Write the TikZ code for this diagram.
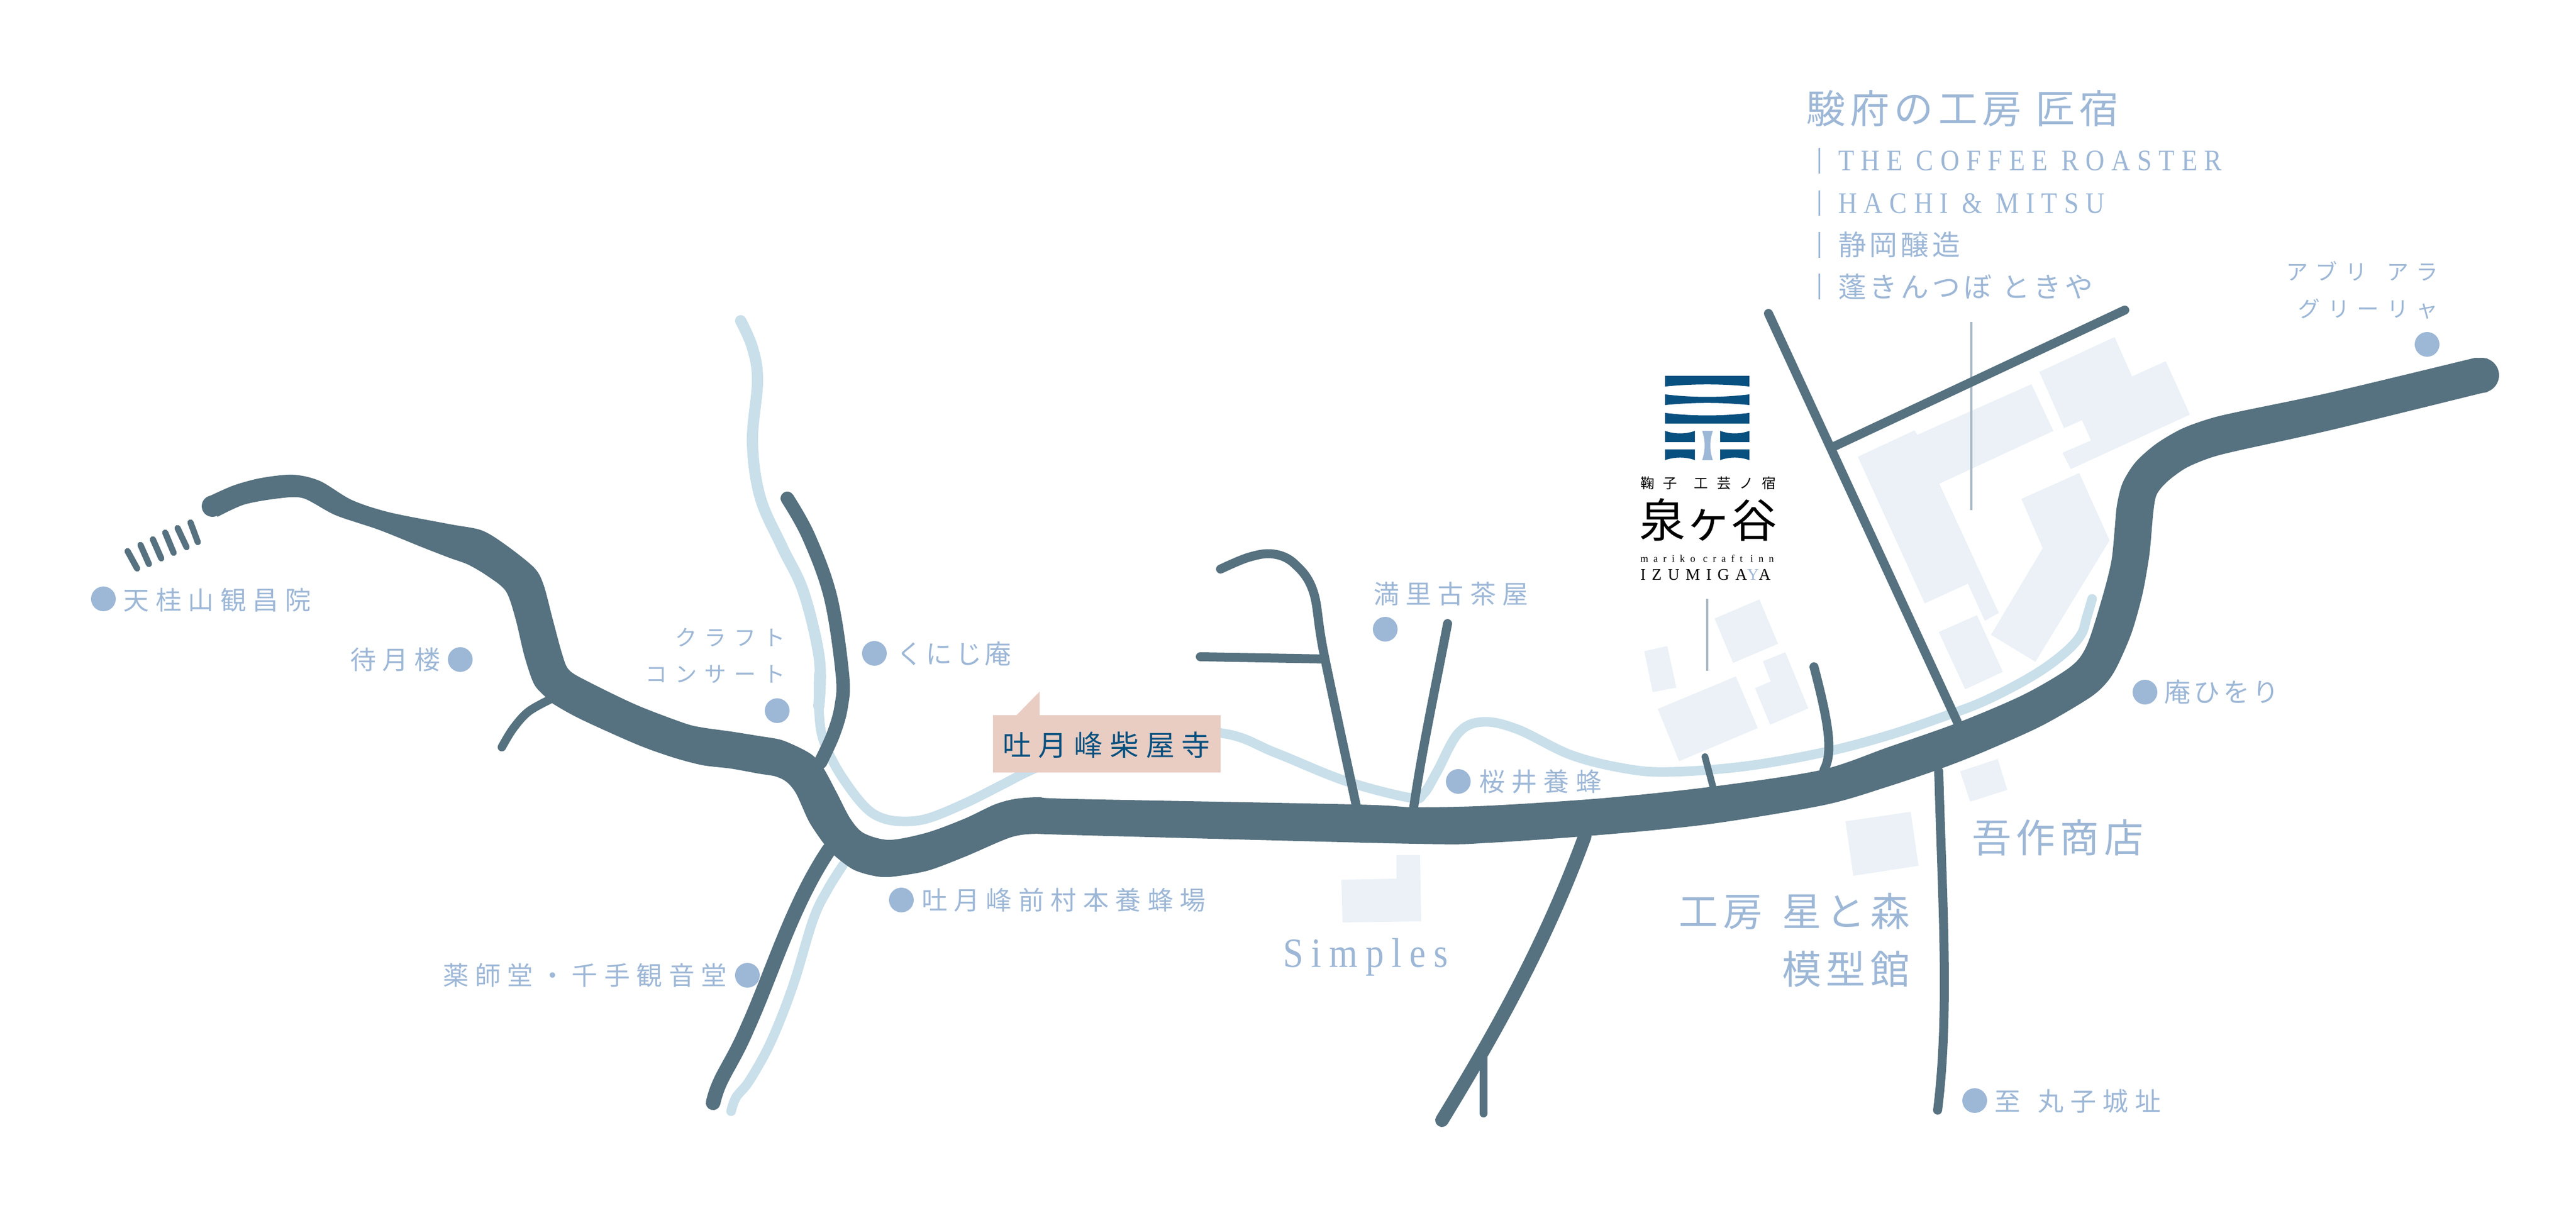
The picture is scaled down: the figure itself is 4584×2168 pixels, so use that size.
\documentclass[tikz,border=0pt]{standalone}
\usepackage{fontspec}
\usepackage{tikz}
\usepackage{xcolor}

\newfontfamily\jplabel[LetterSpace=25]{Noto Sans CJK JP}
\newfontfamily\jpbig[LetterSpace=12]{Noto Sans CJK JP}
\newfontfamily\jpkana[LetterSpace=35]{Noto Sans CJK JP}
\newfontfamily\jpwide[LetterSpace=62]{Noto Sans CJK JP}
\newfontfamily\jpplain{Noto Sans CJK JP}
\newfontfamily\latinlabel[LetterSpace=23,FakeStretch=0.88]{Liberation Serif}
\newfontfamily\latinsimple[LetterSpace=19,FakeStretch=0.88]{Liberation Serif}
\newfontfamily\latinwide[LetterSpace=52]{Liberation Serif}
\newfontfamily\latinlogo[LetterSpace=37]{Liberation Serif}

\definecolor{roadcol}{HTML}{56717F}
\definecolor{rivercol}{HTML}{C9DFEA}
\definecolor{buildcol}{HTML}{EBF1F7}
\definecolor{spotcol}{HTML}{9DB7D6}
\definecolor{tagcol}{HTML}{E9CDC3}
\definecolor{logocol}{HTML}{07507F}
\definecolor{leadcol}{HTML}{A9B8C4}

\tikzset{
  street/.style={draw=roadcol,line cap=round,line join=round,line width=1.6pt},
  river/.style={draw=rivercol,line cap=round,line join=round,line width=1.7pt},
  building/.style={fill=buildcol},
  lead/.style={draw=leadcol,line width=0.4pt},
  spot/.style={circle,fill=spotcol,inner sep=0pt,minimum size=4.4pt},
  smalltext/.style={text=spotcol,inner sep=0pt,font=\jplabel\fontsize{4.6}{5.5}\selectfont},
  tighttext/.style={text=spotcol,inner sep=0pt,font=\jpbig\fontsize{4.7}{5.6}\selectfont},
  kanatext/.style={text=spotcol,inner sep=0pt,font=\jpkana\fontsize{3.9}{4.7}\selectfont},
  bigtext/.style={text=spotcol,inner sep=0pt,font=\jpbig\fontsize{7}{8}\selectfont},
}

\begin{document}
\begin{tikzpicture}[x=0.1pt,y=0.1pt,yscale=-1,xscale=1]
    \useasboundingbox (0,0) rectangle (4584,2168);

    %Shape: Buildings north of the main road
    \fill[building] (3306,813) -- (3407,766) -- (3412,774) -- (3615,684) -- (3654,767) -- (3451,861) -- (3557,1091) -- (3532,1105) -- (3502,1039) -- (3425,1074) -- cycle ;
    \fill[building] (3629,662) -- (3763,600) -- (3794,670) -- (3854,643) -- (3897,738) -- (3685,835) -- (3670,806) -- (3721,784) -- (3705,748) -- (3673,762) -- cycle ;
    \fill[building] (3597,888) -- (3700,842) -- (3754,962) -- (3622,1178) -- (3543,1130) -- (3635,976) -- cycle ;
    \fill[building] (3450,1125) -- (3518,1095) -- (3564,1196) -- (3497,1227) -- cycle ;
    \fill[building] (3051,1101) -- (3131,1067) -- (3164,1146) -- (3084,1180) -- cycle ;
    \fill[building] (2926,1159) -- (2967,1150) -- (2983,1224) -- (2941,1232) -- cycle ;
    \fill[building] (2950,1262) -- (3089,1204) -- (3128,1296) -- (2988,1355) -- cycle ;
    \fill[building] (3137,1177) -- (3177,1161) -- (3218,1261) -- (3150,1290) -- (3123,1225) -- (3151,1213) -- cycle ;
    %Shape: Buildings south of the main road
    \fill[building] (3488,1373) -- (3555,1351) -- (3572,1406) -- (3506,1427) -- cycle ;
    \fill[building] (3284,1462) -- (3400,1445) -- (3414,1541) -- (3298,1559) -- cycle ;
    \fill[building] (2387,1566) -- (2485,1564) -- (2485,1522) -- (2527,1522) -- (2529,1640) -- (2389,1642) -- cycle ;

    %Curve Lines: rivers
    \draw[river,line width=2pt] plot[smooth,tension=0.6] coordinates {(1318,571) (1339,619) (1348,678) (1339,787) (1353,886) (1392,974) (1430,1054) (1458,1172) (1457,1257)};
    \draw[river] plot[smooth,tension=0.6] coordinates {(1457,1200) (1457,1257) (1463,1310) (1483,1357) (1510,1400) (1540,1437) (1567,1455) (1603,1462) (1650,1457) (1717,1430) (1783,1397) (1843,1367) (2000,1300) (2174,1305) (2270,1340) (2394,1390) (2509,1420) (2533,1413) (2557,1374) (2595,1305) (2638,1285) (2700,1298) (2796,1344) (2892,1368) (2971,1374) (3105,1364) (3246,1339) (3360,1309) (3460,1275) (3533,1247) (3617,1203) (3673,1163) (3703,1130) (3713,1100) (3723,1066)};
    \draw[river] plot[smooth,tension=0.6] coordinates {(1500,1540) (1473,1583) (1447,1637) (1411,1755) (1372,1854) (1334,1923) (1310,1953) (1301,1978)};

    %Straight Lines: leaders
    \draw[lead] (3508,573) -- (3508,908) ;
    \draw[lead] (3038,1066) -- (3038,1194) ;

    %Curve Lines: side streets
    \draw[street,line width=2.4pt] plot[smooth,tension=0.6] coordinates {(1401,887) (1439,955) (1478,1063) (1499,1200) (1497,1257) (1483,1307) (1460,1357)};
    \draw[street,line width=1.5pt] plot[smooth,tension=0.6] coordinates {(977,1246) (940,1267) (913,1297) (893,1330)};
    \draw[street,line width=2.6pt] (1475,1513) .. controls (1410,1610) and (1375,1730) .. (1330,1830) .. controls (1300,1900) and (1280,1915) .. (1269,1963) ;
    \draw[street] plot[smooth,tension=0.6] coordinates {(2172,1013) (2222,992) (2265,986) (2303,1003) (2337,1053) (2356,1164) (2413,1432)};
    \draw[street] (2136,1169) -- (2356,1173) ;
    \draw[street] (2576,1110) .. controls (2545,1270) and (2530,1340) .. (2516,1435) ;
    \draw[street,line width=2.4pt] (2820,1489) .. controls (2750,1680) and (2660,1840) .. (2566,1994) ;
    \draw[street,line width=1.4pt] (2640,1883) -- (2640,1982) ;
    \draw[street,line width=1.2pt] (3034,1347) -- (3048,1400) ;
    \draw[street] (3228,1187) .. controls (3255,1290) and (3262,1340) .. (3246,1370) ;
    \draw[street] (3450,1373) .. controls (3456,1600) and (3470,1800) .. (3448,1976) ;
    \draw[street] (3147,558) -- (3483,1285) ;
    \draw[street] (3781,552) -- (3261,796) ;

    %Straight Lines: hatch by the temple
    \draw[street,line width=1.1pt] (227,981) -- (244,1012) ;
    \draw[street,line width=1.1pt] (250,970) -- (265,1004) ;
    \draw[street,line width=1.1pt] (272,960) -- (287,994) ;
    \draw[street,line width=1.1pt] (294,948) -- (309,984) ;
    \draw[street,line width=1.1pt] (316,940) -- (332,974) ;
    \draw[street,line width=1.1pt] (339,930) -- (352,965) ;

    %Shape: Main road
    \fill[roadcol] plot[smooth,tension=0.5] coordinates {(373,883) (416,864) (464,851) (521,845) (569,856) (626,890) (693,912) (800,933) (857,944) (900,970) (950,1010) (967,1040) (983,1100) (1000,1163) (1013,1193) (1050,1215) (1133,1255) (1217,1287) (1250,1295) (1300,1302) (1350,1310) (1390,1317) (1427,1333) (1449,1347) (1467,1370) (1490,1413) (1513,1457) (1537,1483) (1583,1495) (1650,1482) (1717,1457) (1770,1432) (1807,1422) (1850,1419) (1906,1422) (2413,1432) (2518,1437) (2652,1434) (2850,1421) (3041,1401) (3239,1371) (3360,1330) (3485,1286) (3600,1237) (3683,1188) (3713,1150) (3740,1067) (3757,1000) (3763,943) (3767,900) (3777,860) (3800,823) (3837,790) (3883,763) (3933,745) (3983,733) (4150,698) (4404,637)}
      -- (4426,638) -- (4447,668) -- (4426,698) -- plot[smooth,tension=0.5] coordinates {(4415,700) (4150,765) (3983,802) (3933,815) (3890,833) (3857,857) (3838,880) (3832,910) (3827,967) (3823,1000) (3812,1060) (3793,1127) (3767,1187) (3747,1217) (3717,1243) (3633,1292) (3533,1337) (3457,1367) (3360,1400) (3246,1433) (3041,1467) (2850,1486) (2652,1500) (2518,1502) (1897,1486) (1850,1484) (1800,1490) (1717,1525) (1650,1550) (1583,1561) (1550,1558) (1517,1547) (1485,1523) (1467,1503) (1440,1463) (1417,1413) (1400,1392) (1380,1382) (1350,1377) (1300,1368) (1250,1362) (1197,1348) (1133,1325) (1033,1280) (983,1252) (970,1240) (950,1217) (933,1167) (917,1100) (900,1052) (867,1025) (833,1005) (800,993) (751,974) (674,943) (597,917) (540,887) (497,887) (435,898) (387,920)} -- cycle ;
    \fill[roadcol] (378,901) circle (19) ;
    \fill[roadcol] (4416,668) circle (31) ;

    %Shape: Tag
    \fill[tagcol] (1767,1273) -- (1809,1273) -- (1850,1231) -- (1850,1273) -- (2172,1273) -- (2172,1375) -- (1767,1375) -- cycle ;
    \node (tagText) [text=logocol,inner sep=0pt,font=\jplabel\fontsize{5.1}{6}\selectfont] at (1969,1326) {吐月峰柴屋寺};

    %Shape: Logo
    \fill[logocol] (2963,669) -- (3113,669) -- (3113,688) .. controls (3063,683) and (3013,683) .. (2963,688) -- cycle ;
    \fill[logocol] (2963,702) .. controls (3013,708) and (3063,708) .. (3113,702) -- (3113,721) .. controls (3063,716) and (3013,716) .. (2963,721) -- cycle ;
    \fill[logocol] (2963,735) .. controls (3013,741) and (3063,741) .. (3113,735) -- (3113,754) -- (2963,754) -- cycle ;
    \fill[logocol] (2963,767) .. controls (2980,773) and (3000,773) .. (3016,767) -- (3016,787) -- (2963,787) -- cycle ;
    \fill[logocol] (3061,767) .. controls (3078,773) and (3096,773) .. (3113,767) -- (3113,787) -- (3061,787) -- cycle ;
    \fill[logocol] (2963,800) -- (3016,800) -- (3016,819) .. controls (3000,813) and (2980,813) .. (2963,819) -- cycle ;
    \fill[logocol] (3061,800) -- (3113,800) -- (3113,819) .. controls (3096,813) and (3078,813) .. (3061,819) -- cycle ;
    \fill[spotcol] (3029,767) -- (3048,767) .. controls (3042,785) and (3042,801) .. (3048,819) -- (3029,819) .. controls (3035,801) and (3035,785) .. (3029,767) -- cycle ;

    % Text Node
    \node (logoSub) [anchor=west,inner sep=0pt,font=\jpwide\fontsize{2.5}{3}\selectfont] at (2917,860) {鞠子\hspace{3pt}工芸ノ宿};
    \node (logoName) [anchor=west,inner sep=0pt,font=\jpplain\fontsize{8.2}{9}\selectfont] at (2915,925) {泉ヶ谷};
    \node (logoRoman) [anchor=west,inner sep=0pt,font=\latinwide\fontsize{1.8}{2.2}\selectfont] at (2917,994) {mariko craft inn};
    \node (logoCaps) [anchor=west,inner sep=0pt,font=\latinlogo\fontsize{2.9}{3.4}\selectfont] at (2917,1023) {IZUMIGA{\color{spotcol}Y}A};

    % Text Node: workshop list
    \node (shukuTitle) [anchor=west,bigtext] at (3212,193) {駿府の工房\hspace{2.5pt}匠宿};
    \draw[draw=spotcol,line width=0.3pt] (3237,263) -- (3237,309) ;
    \draw[draw=spotcol,line width=0.3pt] (3237,339) -- (3237,384) ;
    \draw[draw=spotcol,line width=0.3pt] (3237,413) -- (3237,459) ;
    \draw[draw=spotcol,line width=0.3pt] (3237,487) -- (3237,533) ;
    \node (coffeeText) [anchor=west,text=spotcol,inner sep=0pt,font=\latinlabel\fontsize{5.3}{6}\selectfont] at (3269,286) {THE COFFEE ROASTER};
    \node (hachiText) [anchor=west,text=spotcol,inner sep=0pt,font=\latinlabel\fontsize{5.3}{6}\selectfont] at (3269,362) {HACHI \& MITSU};
    \node (brewText) [anchor=west,smalltext,font=\jpbig\fontsize{5}{6}\selectfont] at (3269,436) {静岡醸造};
    \node (tokiyaText) [anchor=west,smalltext,font=\jpbig\fontsize{5}{6}\selectfont] at (3269,510) {蓬きんつぼ ときや};

    % Text Node: spots
    \node (dotKannon) [spot] at (184,1066) {};
    \node (txtKannon) [anchor=west,smalltext] at (218,1068) {天桂山観昌院};
    \node (dotTaigetsu) [spot] at (819,1174) {};
    \node (txtTaigetsu) [anchor=east,smalltext] at (786,1174) {待月楼};
    \node (txtCraftA) [anchor=east,kanatext] at (1400,1135) {クラフト};
    \node (txtCraftB) [anchor=east,kanatext] at (1400,1200) {コンサート};
    \node (dotCraft) [spot] at (1383,1265) {};
    \node (dotKuniji) [spot] at (1556,1163) {};
    \node (txtKuniji) [anchor=west,tighttext] at (1593,1164) {くにじ庵};
    \node (dotMura) [spot] at (1604,1602) {};
    \node (txtMura) [anchor=west,smalltext] at (1638,1602) {吐月峰前村本養蜂場};
    \node (dotYakushi) [spot] at (1330,1736) {};
    \node (txtYakushi) [anchor=east,smalltext] at (1296,1736) {薬師堂・千手観音堂};
    \node (txtMari) [anchor=west,smalltext] at (2442,1057) {満里古茶屋};
    \node (dotMari) [spot] at (2465,1120) {};
    \node (dotSakurai) [spot] at (2595,1391) {};
    \node (txtSakurai) [anchor=west,smalltext] at (2630,1391) {桜井養蜂};
    \node (dotHiori) [spot] at (3817,1232) {};
    \node (txtHiori) [anchor=west,tighttext] at (3849,1232) {庵ひをり};
    \node (dotMaruko) [spot] at (3514,1959) {};
    \node (txtMaruko) [anchor=west,smalltext] at (3547,1960) {至\hspace{1pt} 丸子城址};
    \node (txtAbriA) [anchor=east,kanatext] at (4341,483) {アブリ\hspace{3.5pt}アラ};
    \node (txtAbriB) [anchor=east,kanatext] at (4341,550) {グリーリャ};
    \node (dotAbri) [spot] at (4319,613) {};

    % Text Node: shops
    \node (txtGosaku) [anchor=west,bigtext] at (3507,1491) {吾作商店};
    \node (txtHoshi) [anchor=east,bigtext] at (3400,1622) {工房\hspace{3.5pt}星と森};
    \node (txtMokei) [anchor=east,bigtext] at (3400,1725) {模型館};
    \node (txtSimples) [anchor=base west,text=spotcol,inner sep=0pt,font=\latinsimple\fontsize{7.4}{8.5}\selectfont] at (2281,1722) {Simples};

\end{tikzpicture}
\end{document}
